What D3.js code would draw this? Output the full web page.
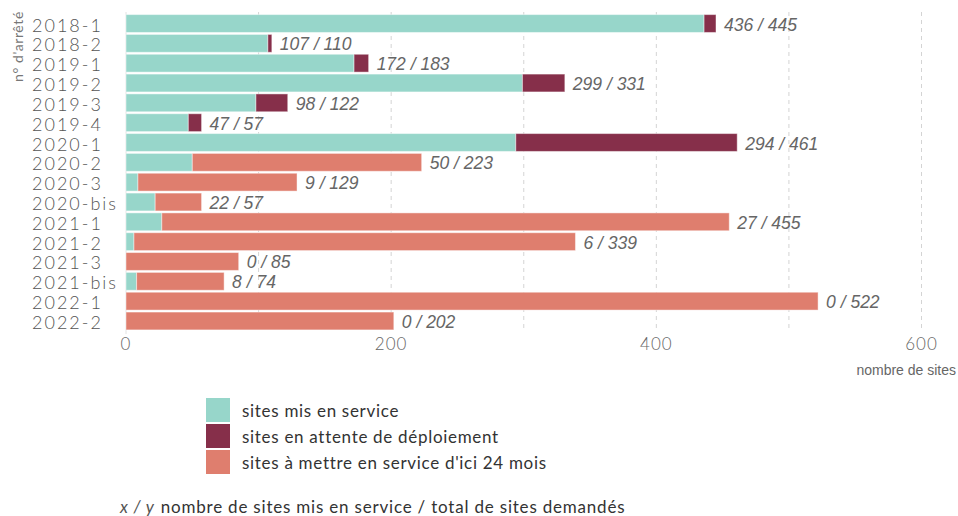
<!DOCTYPE html>
<html>
<head>
<meta charset="utf-8">
<script src="https://cdn.jsdelivr.net/npm/d3@7"></script>
<style>
  body { margin: 0; background: #fff; }
  svg { display: block; }
</style>
</head>
<body>
<div id="chart"></div>
<script>
// data
var arretes = ["2018-1","2018-2","2019-1","2019-2","2019-3","2019-4","2020-1","2020-2","2020-3","2020-bis","2021-1","2021-2","2021-3","2021-bis","2022-1","2022-2"]
var misEnService = [436,107,172,299,98,47,294,50,9,22,27,6,0,8,0,0]
var enAttente = [9,3,11,32,24,10,167,0,0,0,0,0,0,0,0,0]
var aMettre = [0,0,0,0,0,0,0,173,120,35,428,333,85,66,522,202]
var xTicks = [0,200,400,600]
var gridTicks = [100,200,300,400,500,600]
var seriesNames = ["sites mis en service","sites en attente de déploiement","sites à mettre en service d'ici 24 mois"]
var colors = ["#97d6ca","#862f4a","#df7e6e"]

var width = 958, height = 516

var svg = d3.select("#chart")
    .append("svg")
    .attr("width", width)
    .attr("height", height)

var x = d3.scaleLinear().domain([0, 600]).range([126, 921.5])
var y = d3.scaleBand().domain(arretes).range([14, 330.5]).paddingInner(0.1).paddingOuter(0.03)

//stack the three series
var rows = arretes.map((a, i) => ({arrete: a, s0: misEnService[i], s1: enAttente[i], s2: aMettre[i]}))
var stack = d3.stack().keys(["s0","s1","s2"])(rows)

//grid
svg.append("g")
    .selectAll("line")
    .data(gridTicks)
    .enter()
    .append("line")
    .attr("x1", d => x(d))
    .attr("x2", d => x(d))
    .attr("y1", 12)
    .attr("y2", 332)
    .attr("stroke", "#d4d4d4")
    .attr("stroke-dasharray", "4,4")

svg.append("line")
    .attr("x1", x(0)).attr("x2", x(0))
    .attr("y1", 12).attr("y2", 334)
    .attr("stroke", "#e2e2e2")

//bars
svg.append("g")
    .selectAll("g")
    .data(stack)
    .enter()
    .append("g")
    .attr("fill", (d, i) => colors[i])
    .selectAll("rect")
    .data(d => d.filter(p => p[1] > p[0]))
    .enter()
    .append("rect")
    .attr("x", d => x(d[0]))
    .attr("y", d => y(d.data.arrete))
    .attr("width", d => x(d[1]) - x(d[0]))
    .attr("height", y.bandwidth())
    .attr("stroke", "#ffffff")
    .attr("stroke-opacity", 0.45)
    .attr("stroke-width", 1)

//value labels
svg.append("g")
    .selectAll("text")
    .data(rows)
    .enter()
    .append("text")
    .attr("x", d => x(d.s0 + d.s1 + d.s2) + 8)
    .attr("y", d => y(d.arrete) + y.bandwidth() / 2 + 1)
    .attr("dominant-baseline", "central")
    .attr("font-family", "'Liberation Sans', Arial, sans-serif")
    .attr("font-style", "italic")
    .attr("font-size", "17.5px")
    .attr("fill", "#666")
    .text(d => `${d.s0} / ${d.s0 + d.s1 + d.s2}`)

//category labels
svg.append("g")
    .selectAll("text")
    .data(arretes)
    .enter()
    .append("text")
    .attr("x", 32)
    .attr("y", d => y(d) + y.bandwidth() / 2 + 1)
    .attr("dominant-baseline", "central")
    .attr("font-family", "Lato, sans-serif")
    .attr("font-weight", 300)
    .attr("letter-spacing", "2px")
    .attr("font-size", "18px")
    .attr("fill", "#555")
    .text(d => d)

svg.append("text")
    .attr("transform", "translate(23,82) rotate(-90)")
    .attr("text-anchor", "start")
    .attr("font-family", "Lato, sans-serif")
    .attr("font-size", "14px")
    .attr("letter-spacing", "0.6px")
    .attr("fill", "#777")
    .text("n° d'arrêté")

//x axis labels
svg.append("g")
    .selectAll("text")
    .data(xTicks)
    .enter()
    .append("text")
    .attr("x", d => x(d))
    .attr("y", 350)
    .attr("text-anchor", "middle")
    .attr("font-family", "Lato, sans-serif")
    .attr("font-weight", 300)
    .attr("letter-spacing", "1px")
    .attr("font-size", "17px")
    .attr("fill", "#666")
    .text(d => d)

svg.append("text")
    .attr("x", 956)
    .attr("y", 375)
    .attr("text-anchor", "end")
    .attr("font-family", "'Liberation Sans', Arial, sans-serif")
    .attr("font-size", "14px")
    .attr("fill", "#666")
    .text("nombre de sites")

//legend
var legend = svg.append("g")
    .selectAll("g")
    .data(seriesNames)
    .enter()
    .append("g")
    .attr("transform", (d, i) => `translate(206,${398 + i * 26})`)

legend.append("rect")
    .attr("width", 24)
    .attr("height", 24)
    .attr("fill", (d, i) => colors[i])

legend.append("text")
    .attr("x", 36)
    .attr("y", 12)
    .attr("dominant-baseline", "central")
    .attr("font-family", "Lato, sans-serif")
    .attr("font-size", "17px")
    .attr("letter-spacing", "0.7px")
    .attr("fill", "#333")
    .text(d => d)

var note = svg.append("text")
    .attr("x", 120)
    .attr("y", 513)
    .attr("font-family", "Lato, sans-serif")
    .attr("font-size", "17px")
    .attr("letter-spacing", "0.8px")
    .attr("fill", "#333")
note.append("tspan").attr("font-style", "italic").attr("fill", "#555").text("x / y")
note.append("tspan").attr("dx", 6).text("nombre de sites mis en service / total de sites demandés")
</script>
</body>
</html>
